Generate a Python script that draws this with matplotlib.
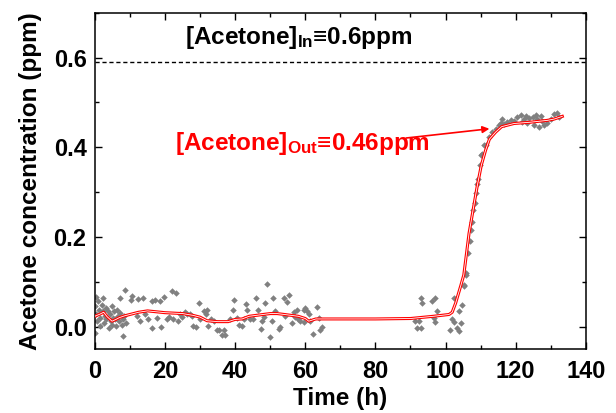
import matplotlib
matplotlib.use("Agg")
import matplotlib.pyplot as plt
from matplotlib.ticker import MultipleLocator

plt.rcParams['font.family'] = ['Liberation Sans', 'DejaVu Sans']
plt.rcParams['font.weight'] = 'bold'
plt.rcParams['mathtext.fontset'] = 'custom'
plt.rcParams['mathtext.rm'] = 'Liberation Sans:bold'
plt.rcParams['mathtext.bf'] = 'Liberation Sans:bold'
plt.rcParams['mathtext.it'] = 'Liberation Sans:bold'

# Measured data: baseline period 0-65 h  (time h, concentration ppm)
base_t = [0.0, 0.3, 0.7, 1.0, 1.2, 1.4, 1.6, 1.9, 2.2, 2.4,
          2.6, 2.9, 3.1, 3.3, 3.8, 4.1, 4.3, 4.5, 4.8, 5.0,
          5.2, 5.4, 5.7, 6.0, 6.2, 6.7, 7.0, 7.1, 7.3, 7.6,
          7.9, 8.1, 8.3, 8.6, 8.9, 0.3, 0.1]
base_c = [0.045, 0.027, 0.012, 0.056, 0.038, 0.019, 0.001, 0.049, 0.034, 0.064,
          0.008, 0.023, 0.041, 0.016, 0.034, -0.003, 0.027, 0.012, 0.045, 0.004,
          0.019, 0.034, 0.016, 0.001, 0.038, 0.023, 0.012, 0.064, 0.030, 0.004,
          0.016, -0.021, 0.024, 0.082, 0.008, 0.067, -0.014]

drift_t = [10.5, 10.2, 12.4, 13.6, 16.2, 17.1, 18.6, 19.7, 21.9, 23.1,
           16.3, 19.0, 20.5, 21.2, 23.8, 24.3, 25.7, 26.4, 27.1, 27.6,
           28.1, 28.9, 29.8, 31.0, 31.7, 32.1, 32.4, 33.0, 34.8, 35.5,
           36.2, 36.7, 37.1, 38.6, 39.3, 39.7, 41.0, 41.9, 43.1, 43.3,
           44.3, 45.2, 45.9, 46.4, 47.3, 47.6, 48.6, 49.2, 50.0, 50.5,
           50.9, 51.4, 52.4, 52.9, 53.8, 54.8, 55.5, 56.2, 56.7, 57.6,
           57.8, 58.6, 59.5, 60.0, 60.5, 61.0, 61.4, 62.2, 63.3, 63.8,
           64.3, 64.8, 11.9, 12.9, 14.3, 15.2, 17.6, 22.4, 24.8, 30.0,
           34.0, 40.5, 42.4, 48.1, 54.3, 57.1, 59.5]
drift_c = [0.069, 0.059, 0.061, 0.063, 0.056, 0.059, 0.057, 0.066, 0.079, 0.075,
           -0.003, 0.000, 0.016, 0.021, 0.012, 0.029, 0.032, 0.027, 0.029, 0.023,
           0.001, 0.000, 0.053, 0.034, 0.027, 0.038, 0.001, 0.016, -0.007, -0.008,
           -0.018, -0.008, -0.018, 0.016, 0.038, 0.059, 0.004, 0.002, 0.051, 0.036,
           0.016, 0.016, 0.064, 0.036, -0.005, 0.012, 0.053, 0.096, -0.023, 0.012,
           0.064, 0.034, -0.005, 0.000, 0.064, 0.054, 0.071, 0.008, 0.032, 0.036,
           0.016, 0.012, 0.038, 0.041, 0.034, 0.027, 0.012, -0.016, 0.044, 0.019,
           -0.007, 0.000, 0.023, 0.012, 0.027, 0.016, 0.019, 0.016, 0.021, 0.017,
           0.012, 0.019, 0.016, 0.021, 0.023, 0.021, 0.010]

# Measured data: restart and breakthrough 90-133 h
late_t = [92.9, 93.3, 92.0, 92.9, 91.4, 92.4, 96.2, 97.1, 97.6, 96.7,
          97.1, 101.4, 103.3, 103.8, 102.4, 101.7, 102.4, 104.3, 103.8, 104.8,
          105.2, 105.7, 105.2, 105.7, 106.4, 106.9, 107.3, 107.6, 107.9, 108.3,
          108.6, 108.9, 109.3, 109.8, 110.2, 110.9, 110.5, 111.4, 112.4, 113.3,
          114.3, 115.7, 116.7, 117.6, 118.6, 119.5, 120.5, 121.4, 122.4, 122.9,
          123.8, 124.8, 125.7, 126.2, 127.1, 127.6, 128.1, 129.0, 130.0, 131.0,
          131.9, 132.4, 125.2, 126.7, 123.3, 121.9, 115.2, 116.2]
late_c = [0.064, 0.053, -0.003, -0.003, 0.012, 0.013, 0.056, 0.064, 0.034, 0.020,
          0.010, -0.007, -0.003, -0.010, 0.064, 0.018, 0.011, 0.008, 0.034, 0.049,
          0.093, 0.116, 0.090, 0.119, 0.164, 0.190, 0.216, 0.234, 0.260, 0.275,
          0.298, 0.319, 0.330, 0.360, 0.382, 0.404, 0.386, 0.404, 0.423, 0.434,
          0.441, 0.454, 0.451, 0.456, 0.460, 0.458, 0.467, 0.471, 0.464, 0.469,
          0.466, 0.467, 0.471, 0.464, 0.469, 0.458, 0.449, 0.454, 0.464, 0.475,
          0.476, 0.467, 0.449, 0.445, 0.454, 0.456, 0.449, 0.462]

# Smoothed curve
fit_t = [0, 1.5, 2.5, 3.5, 4.9, 6, 7, 8.5, 10, 12.5,
         15, 17.5, 20, 25, 28, 30, 32, 35, 38, 40,
         42, 44, 47, 50, 52, 55, 58, 60, 61, 63,
         65, 80, 90, 96.6, 101, 101.9, 102.9, 104.3, 105.2, 106.7,
         109, 110.2, 111.4, 112.5, 114.3, 116, 119.5, 124.3, 129, 131,
         133.3]
fit_c = [0.023, 0.028, 0.032, 0.022, 0.012, 0.016, 0.020, 0.024, 0.027, 0.032,
         0.035, 0.033, 0.031, 0.029, 0.025, 0.021, 0.013, 0.011, 0.011, 0.016,
         0.017, 0.023, 0.026, 0.029, 0.029, 0.026, 0.023, 0.018, 0.012, 0.017,
         0.017, 0.017, 0.018, 0.023, 0.027, 0.032, 0.053, 0.090, 0.115, 0.208,
         0.312, 0.360, 0.393, 0.418, 0.434, 0.446, 0.453, 0.456, 0.460, 0.463,
         0.469]

inlet_level = 0.59
label_in = r"[Acetone]$_{\mathrm{In}}$≡0.6ppm"
label_out = r"[Acetone]$_{\mathrm{Out}}$≡0.46ppm"

fig = plt.figure(figsize=(6.16, 4.13), dpi=100)
ax = fig.add_axes([0.154, 0.155, 0.797, 0.814])

for tt, cc in [(base_t, base_c), (drift_t, drift_c), (late_t, late_c)]:
    ax.scatter(tt, cc, s=11, marker='D', color='#808080', linewidths=0, zorder=2)
ax.plot(fit_t, fit_c, color='red', lw=2.2, zorder=3, solid_joinstyle='round')
ax.plot(fit_t, fit_c, color='white', lw=0.6, zorder=4, solid_joinstyle='round')
ax.axhline(inlet_level, color='black', lw=1.0, ls=(0, (3, 2)), zorder=1)

ax.text(25.7, 0.644, label_in, fontsize=17.5, fontweight='bold', color='black', va='center', ha='left')
ax.text(22.9, 0.409, label_out, fontsize=17.5, fontweight='bold', color='#ff0000', va='center', ha='left')
ax.annotate('', xy=(113.3, 0.442), xytext=(88, 0.42),
            arrowprops=dict(arrowstyle='-|>', color='#ff0000', lw=1.2, mutation_scale=10))

ax.set_xlim(0, 140)
ax.set_ylim(-0.05, 0.7)
ax.xaxis.set_major_locator(MultipleLocator(20))
ax.xaxis.set_minor_locator(MultipleLocator(10))
ax.yaxis.set_minor_locator(MultipleLocator(0.1))
ax.set_yticks([0.0, 0.2, 0.4, 0.6])
ax.set_yticklabels(['0.0', '0.2', '0.4', '0.6'])
ax.tick_params(which='both', direction='in', top=True, right=True, width=1.0)
ax.tick_params(which='major', length=5, labelsize=17)
ax.tick_params(axis='x', which='major', pad=8)
ax.tick_params(axis='y', which='major', pad=6)
ax.tick_params(which='minor', length=3)
for lab in ax.get_xticklabels() + ax.get_yticklabels():
    lab.set_fontweight('bold')
for sp in ax.spines.values():
    sp.set_linewidth(1.1)

ax.set_xlabel('Time (h)', fontsize=17.5, fontweight='bold', labelpad=3)
ax.set_ylabel('Acetone concentration (ppm)', fontsize=17.5, fontweight='bold', labelpad=8)

fig.savefig('out.png', dpi=100)
